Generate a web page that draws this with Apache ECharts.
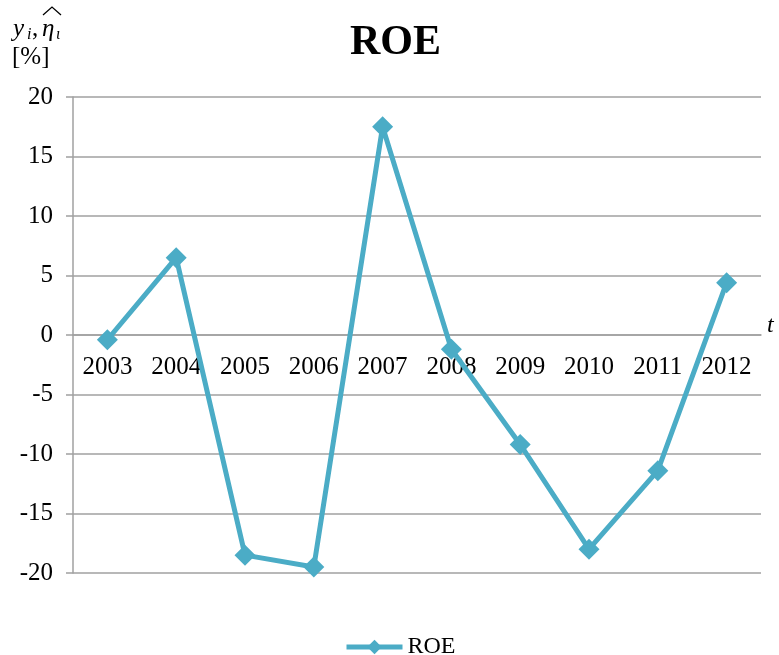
<!DOCTYPE html>
<html>
<head>
<meta charset="utf-8">
<script src="https://cdn.jsdelivr.net/npm/echarts@6/dist/echarts.min.js"></script>
<style>
  html, body { margin: 0; padding: 0; background: #fff; }
  #chart { width: 779px; height: 655px; }
</style>
</head>
<body>
<div id="chart"></div>
<script>
// data
var years = ["2003", "2004", "2005", "2006", "2007", "2008", "2009", "2010", "2011", "2012"];
var roe = [-0.4, 6.5, -18.5, -19.5, 17.5, -1.2, -9.2, -18.0, -11.4, 4.4];

var serif = "'Liberation Serif', 'DejaVu Serif', serif";
var lineColor = "#4BACC6";
var axisGray = "#a0a0a0";

function label(text, x, y, size, italic) {
  return {
    type: "text",
    left: x,
    top: y,
    style: {
      text: text,
      fontFamily: serif,
      fontStyle: italic ? "italic" : "normal",
      fontSize: size,
      fill: "#000"
    }
  };
}

var chart = echarts.init(document.getElementById("chart"));
var option = {
  backgroundColor: "#fff",
  animation: false,
  title: {
    text: "ROE",
    left: 345,
    top: 17,
    textStyle: { fontFamily: serif, fontSize: 42, fontWeight: "bold", color: "#000" }
  },
  grid: { left: 73, right: 18, top: 97, bottom: 82 },
  legend: {
    left: 339,
    top: 630,
    itemWidth: 56,
    itemHeight: 18,
    itemGap: 4,
    lineStyle: { width: 5 },
    textStyle: { fontFamily: serif, fontSize: 24, color: "#000" },
    data: ["ROE"]
  },
  xAxis: {
    type: "category",
    data: years,
    boundaryGap: true,
    // the axis sits on y = 0, half way up the grid (476 px high)
    offset: -238,
    axisLine: { onZero: false, lineStyle: { color: axisGray, width: 1.5 } },
    axisTick: { inside: true, length: 6, lineStyle: { color: axisGray, width: 1.5 } },
    axisLabel: { interval: 0, margin: 20, fontFamily: serif, fontSize: 25, color: "#000" },
    splitLine: { show: false }
  },
  yAxis: {
    type: "value",
    min: -20,
    max: 20,
    interval: 5,
    axisLine: { show: true, lineStyle: { color: axisGray, width: 1.5 } },
    axisTick: { show: true, length: 7, lineStyle: { color: axisGray, width: 1.5 } },
    axisLabel: { margin: 20, fontFamily: serif, fontSize: 25, color: "#000" },
    splitLine: { lineStyle: { color: axisGray, width: 1.5 } }
  },
  graphic: [
    // y axis name: y_i, eta-hat_i  [%]
    label("y", 13, 17, 25, true),
    label("i", 27, 27, 16, true),
    label(",", 32, 17, 25, false),
    label("\u03b7", 42, 17, 25, true),
    label("\u03b9", 56, 27, 16, true),
    {
      type: "polyline",
      shape: { points: [[43, 15], [52, 7], [61, 15]] },
      style: { stroke: "#000", lineWidth: 1.3, fill: null }
    },
    label("[%]", 12, 45, 25, false),
    label("t", 767, 314, 24, true)
  ],
  series: [
    {
      name: "ROE",
      type: "line",
      data: roe,
      symbol: "diamond",
      symbolSize: 21,
      lineStyle: { color: lineColor, width: 5 },
      itemStyle: { color: lineColor }
    }
  ]
};
chart.setOption(option);
</script>
</body>
</html>
